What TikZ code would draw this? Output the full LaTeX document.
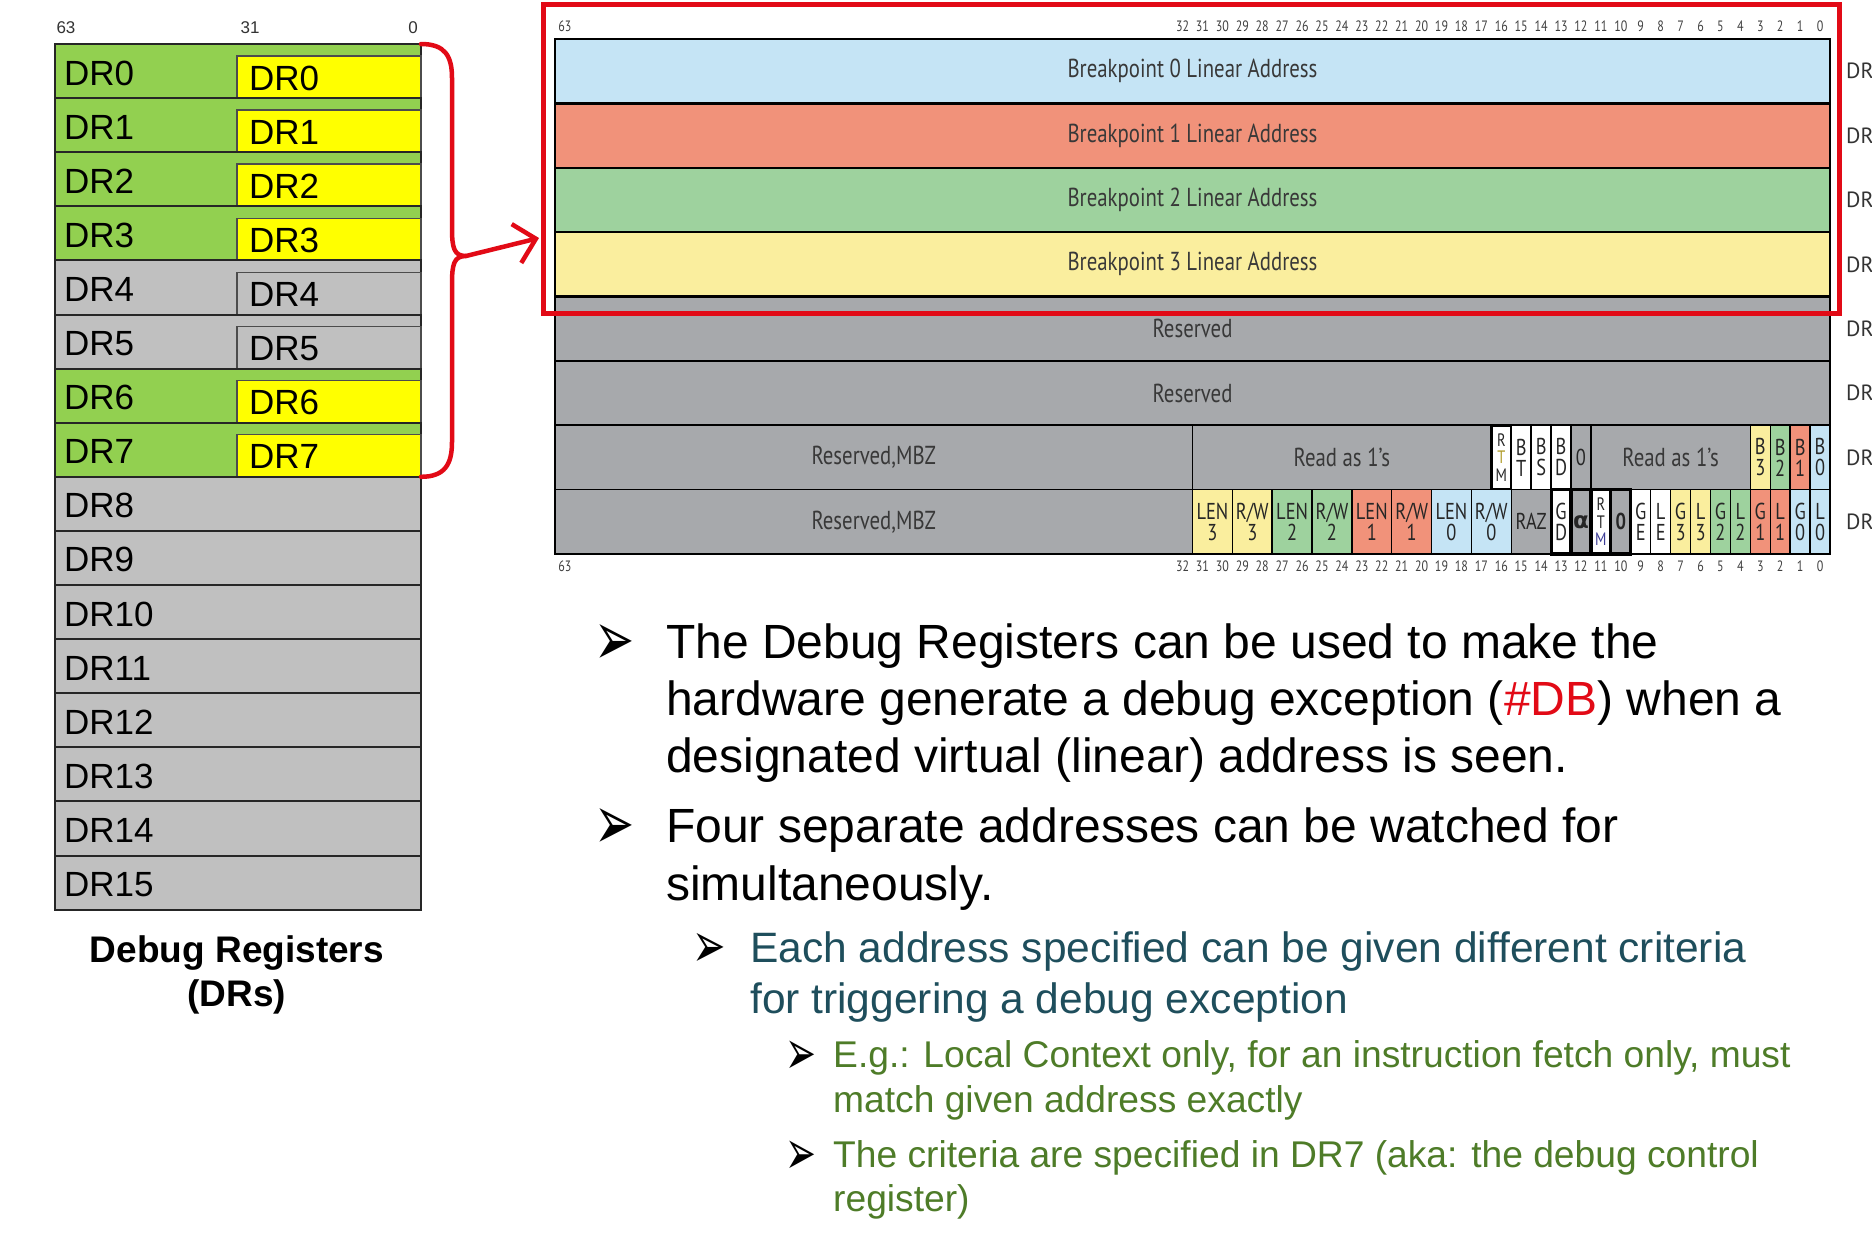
\documentclass[tikz,border=0pt]{standalone}
\usepackage{fontspec}
\setmainfont{Liberation Sans}
\newfontfamily\ptsans{PT Sans}
\newfontfamily\ptnarrow[FakeStretch=0.8]{PT Sans}
\newfontfamily\djv{DejaVu Sans}
\usetikzlibrary{arrows.meta}

\definecolor{lgreen}{RGB}{146,208,80}
\definecolor{lyellow}{RGB}{255,255,0}
\definecolor{lgray}{RGB}{192,192,192}
\definecolor{bpblue}{RGB}{197,228,245}
\definecolor{bpred}{RGB}{241,146,122}
\definecolor{bpgreen}{RGB}{158,210,158}
\definecolor{bpyellow}{RGB}{250,238,158}
\definecolor{rgray}{RGB}{167,169,172}
\definecolor{hired}{RGB}{226,10,22}
\definecolor{lvtwo}{RGB}{30,78,92}
\definecolor{lvthree}{RGB}{78,124,40}
\definecolor{rtmT}{RGB}{175,155,40}
\definecolor{rtmM}{RGB}{60,60,150}

\def\bw{19.921875}
\def\rh{64.375}
\def\lh{54.1}
\newcommand\fpx[2]{\fontsize{#1}{#2}\selectfont}
\newcommand\arrowbul[1]{\scalebox{1}[#1]{➢}}

\newcommand\bitcell[7]{%
  \node[cell,fill=#5,minimum width={(#2-#3+1)*\bw},#7] (#1)
    at ({555+(63-#2)*\bw},{39+#4*\rh}) {#6};}

\begin{document}
\begin{tikzpicture}[x=1pt,y=-1pt,
  lrow/.style={draw=black!85,line width=2,anchor=north west,minimum width=366,
    minimum height=\lh,inner sep=0,outer sep=0},
  linner/.style={draw=black!70,line width=1.5,anchor=north west,minimum width=184,
    minimum height=\lh-12,inner sep=0,outer sep=0},
  ltext/.style={anchor=base west,inner sep=0,font=\fpx{35}{40}},
  lnum/.style={inner sep=0,text=black!80,font=\fpx{17}{18}},
  capt/.style={anchor=base,inner sep=0,font=\bfseries\fpx{37}{44}},
  rrow/.style={draw=black,line width=2.5,anchor=north west,minimum width=1275,
    minimum height=\rh,inner sep=0,outer sep=0,text=black!78,font=\ptnarrow\fpx{26}{28}},
  cell/.style={draw=black,line width=1.5,anchor=north west,minimum height=\rh,
    inner sep=0,outer sep=0,align=center,text=black!85,font=\ptnarrow\fpx{23}{21}},
  hvy/.style={line width=3.2},
  midtext/.style={font=\ptnarrow\fpx{26}{28},text=black!78},
  tinytxt/.style={font=\ptnarrow\fpx{18}{17.5}},
  bitnum/.style={inner sep=0,text=black!75,font=\ptnarrow\fpx{15}{15}},
  drlab/.style={anchor=west,inner sep=0,text=black!80,font=\ptsans\fpx{22}{24}},
  bracered/.style={draw=hired,line width=4.5,line cap=round,line join=round},
  redarrow/.style={draw=hired,line width=4.5,line cap=round,
    -{Straight Barb[length=20pt,width=40pt,line width=4.5pt]}},
  t1/.style={anchor=base west,inner sep=0,font=\fpx{48}{57}},
  t2/.style={anchor=base west,inner sep=0,text=lvtwo,font=\fpx{42.5}{51}},
  t3/.style={anchor=base west,inner sep=0,text=lvthree,font=\fpx{37.2}{44}},
  b1/.style={anchor=south west,inner sep=0,font=\djv\fpx{48}{48}},
  b2/.style={anchor=south west,inner sep=0,font=\djv\fpx{40}{40}},
  b3/.style={anchor=south west,inner sep=0,font=\djv\fpx{37}{37}}
]
\useasboundingbox (0,0) rectangle (1872,1235);
\clip (0,0) rectangle (1872,1235);
\fill[white] (0,0) rectangle (1872,1235);

% ---------------- left column of debug registers
\node[lnum] (n63) at (66,28) {63};
\node[lnum] (n31) at (250,28) {31};
\node[lnum] (n0) at (413,28) {0};
\foreach \k/\fa/\fb in {0/lgreen/lyellow,1/lgreen/lyellow,2/lgreen/lyellow,3/lgreen/lyellow,
  4/lgray/lgray,5/lgray/lgray,6/lgreen/lyellow,7/lgreen/lyellow}{
  \node[lrow,fill=\fa] (L\k) at (55,{44+\k*\lh}) {};
  \node[linner,fill=\fb] (I\k) at (237,{44+\k*\lh+12}) {};
  \node[ltext] (Lt\k) at (64,{44+\k*\lh+41}) {DR\k};
  \node[ltext] (It\k) at (249,{44+\k*\lh+46}) {DR\k};
}
\foreach \k in {8,...,15}{
  \node[lrow,fill=lgray] (L\k) at (55,{44+\k*\lh}) {};
  \node[ltext] (Lt\k) at (64,{44+\k*\lh+41}) {DR\k};
}
\node[capt] (cap1) at (237,962) {Debug Registers};
\node[capt] (cap2) at (237,1006) {(DRs)};

% ---------------- right: register layouts
\foreach \k/\fa/\tx in {0/bpblue/Breakpoint 0 Linear Address,
  1/bpred/Breakpoint 1 Linear Address,2/bpgreen/Breakpoint 2 Linear Address,
  3/bpyellow/Breakpoint 3 Linear Address,4/rgray/Reserved,5/rgray/Reserved,
  6/rgray/{},7/rgray/{}}{
  \node[rrow,fill=\fa] (R\k) at (555,{39+\k*\rh}) {\tx};
}
% DR6
\bitcell{s63}{63}{32}{6}{rgray}{Reserved,MBZ}{midtext}
\bitcell{sra}{31}{17}{6}{rgray}{Read as 1’s}{midtext}
\bitcell{srtm}{16}{16}{6}{white}{R\\\textcolor{rtmT}{T}\\M}{hvy,tinytxt}
\bitcell{sbt}{15}{15}{6}{white}{B\\T}{}
\bitcell{sbs}{14}{14}{6}{white}{B\\S}{}
\bitcell{sbd}{13}{13}{6}{white}{B\\D}{}
\bitcell{sz}{12}{12}{6}{rgray}{0}{}
\bitcell{srb}{11}{4}{6}{rgray}{Read as 1’s}{midtext}
\bitcell{sb3}{3}{3}{6}{bpyellow}{B\\3}{}
\bitcell{sb2}{2}{2}{6}{bpgreen}{B\\2}{}
\bitcell{sb1}{1}{1}{6}{bpred}{B\\1}{}
\bitcell{sb0}{0}{0}{6}{bpblue}{B\\0}{}
% DR7
\bitcell{c63}{63}{32}{7}{rgray}{Reserved,MBZ}{midtext}
\bitcell{clen3}{31}{30}{7}{bpyellow}{LEN\\3}{}
\bitcell{crw3}{29}{28}{7}{bpyellow}{R/W\\3}{}
\bitcell{clen2}{27}{26}{7}{bpgreen}{LEN\\2}{}
\bitcell{crw2}{25}{24}{7}{bpgreen}{R/W\\2}{}
\bitcell{clen1}{23}{22}{7}{bpred}{LEN\\1}{}
\bitcell{crw1}{21}{20}{7}{bpred}{R/W\\1}{}
\bitcell{clen0}{19}{18}{7}{bpblue}{LEN\\0}{}
\bitcell{crw0}{17}{16}{7}{bpblue}{R/W\\0}{}
\bitcell{craz}{15}{14}{7}{rgray}{RAZ}{}
\bitcell{cgd}{13}{13}{7}{white}{G\\D}{hvy}
\bitcell{calpha}{12}{12}{7}{rgray}{{\djv\bfseries α}}{hvy}
\bitcell{crtm}{11}{11}{7}{white}{R\\T\\\textcolor{rtmM}{M}}{hvy,tinytxt}
\bitcell{cz}{10}{10}{7}{rgray}{\bfseries 0}{hvy}
\bitcell{cge}{9}{9}{7}{white}{G\\E}{}
\bitcell{cle}{8}{8}{7}{white}{L\\E}{}
\bitcell{cg3}{7}{7}{7}{bpyellow}{G\\3}{}
\bitcell{cl3}{6}{6}{7}{bpyellow}{L\\3}{}
\bitcell{cg2}{5}{5}{7}{bpgreen}{G\\2}{}
\bitcell{cl2}{4}{4}{7}{bpgreen}{L\\2}{}
\bitcell{cg1}{3}{3}{7}{bpred}{G\\1}{}
\bitcell{cl1}{2}{2}{7}{bpred}{L\\1}{}
\bitcell{cg0}{1}{1}{7}{bpblue}{G\\0}{}
\bitcell{cl0}{0}{0}{7}{bpblue}{L\\0}{}
\draw[line width=2.5] (R0.north west) rectangle (R7.south east);

% bit numbers
\foreach \b in {0,...,32}{
  \node[bitnum] (tn\b) at ({555+(63.5-\b)*\bw},26) {\b};
  \node[bitnum] (bn\b) at ({555+(63.5-\b)*\bw},566) {\b};
}
\node[bitnum] (tn63) at ({555+0.5*\bw},26) {63};
\node[bitnum] (bn63) at ({555+0.5*\bw},566) {63};

% DR labels at the right edge
\foreach \k in {0,...,7}{
  \node[drlab] (D\k) at (1846,{39+(\k+0.5)*\rh}) {DR};
}

% red highlight box
\node[draw=hired,line width=5,anchor=north west,minimum width=1296,minimum height=309,
  inner sep=0,outer sep=0] (redbox) at (543,4) {};

% brace and arrow
\coordinate (brtip) at (466,256);
\coordinate (aend) at (539,238);
\draw[bracered] (L0.north east) .. controls +(24,0) and +(0,-22) .. (452,78)
  -- (452,228) .. controls +(0,20) and +(-12,0) .. (brtip)
  .. controls +(-12,0) and +(0,-20) .. (452,284)
  -- (452,442) .. controls +(0,22) and +(24,0) .. (L7.south east);
\draw[redarrow] (brtip) -- (aend);

% ---------------- bullet text
\node[b1] (g1) at (594,666) {\arrowbul{1.6}};
\node[t1] (p1a) at (666,658) {The Debug Registers can be used to make the};
\node[t1] (p1b) at (666,715) {hardware generate a debug exception (\textcolor{hired}{\#DB}) when a};
\node[t1] (p1c) at (666,772) {designated virtual (linear) address is seen.};
\node[b1] (g2) at (594,850) {\arrowbul{1.6}};
\node[t1] (p2a) at (666,842) {Four separate addresses can be watched for};
\node[t1] (p2b) at (666,900) {simultaneously.};

\node[b2] (g3) at (692,968) {\arrowbul{1.6}};
\node[t2] (p3a) at (750,962) {Each address specified can be given different criteria};
\node[t2] (p3b) at (750,1013) {for triggering a debug exception};

\node[b3] (g4) at (785,1075) {\arrowbul{1.7}};
\node[t3] (p4a) at (833,1067) {E.g.: Local Context only, for an instruction fetch only, must};
\node[t3] (p4b) at (833,1112) {match given address exactly};
\node[b3] (g5) at (785,1175) {\arrowbul{1.7}};
\node[t3] (p5a) at (833,1167) {The criteria are specified in DR7 (aka: the debug control};
\node[t3] (p5b) at (833,1211) {register)};
\end{tikzpicture}
\end{document}
